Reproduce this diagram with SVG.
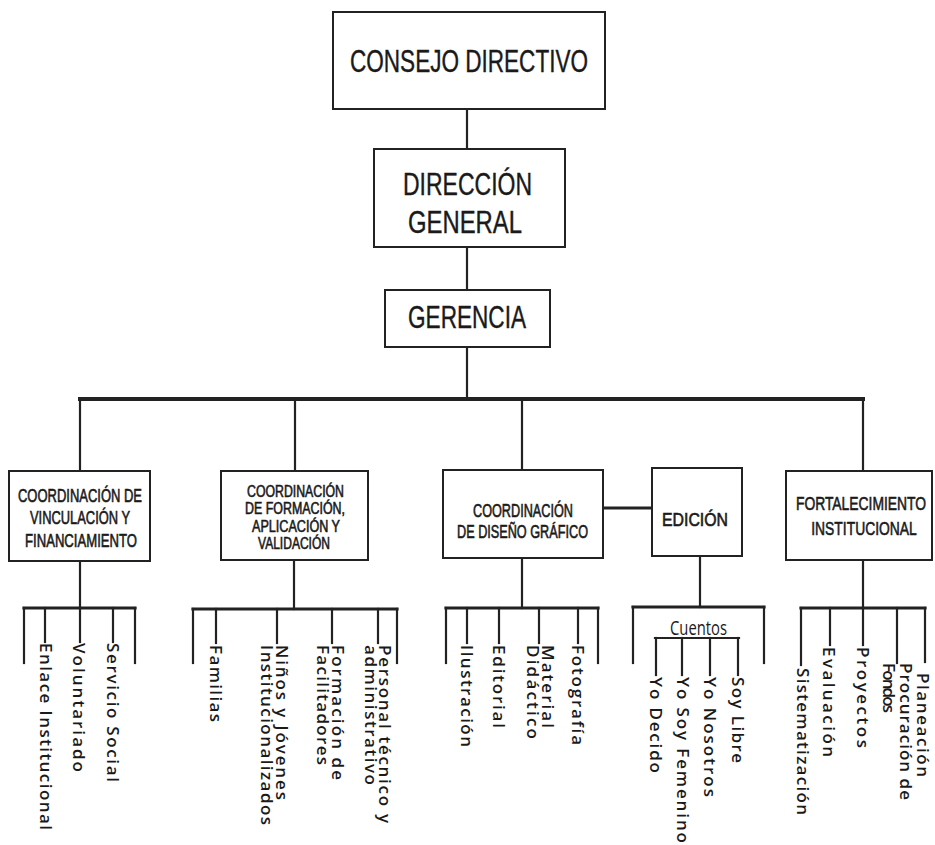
<svg xmlns="http://www.w3.org/2000/svg" width="935" height="845" viewBox="0 0 935 845">
<style>
.box{fill:#fff;stroke:#222;stroke-width:2}
.ln{stroke:#222;stroke-width:2.2;fill:none;stroke-linecap:square}
.bar{stroke:#222;stroke-width:3.2;fill:none;stroke-linecap:square}
.main{stroke:#222;stroke-width:4;fill:none}
.t1{font-family:"Liberation Sans",Arial,sans-serif;font-size:31px;fill:#1a1a1a;stroke:#1a1a1a;stroke-width:0.4;text-anchor:start}
.t2{font-family:"Liberation Sans",Arial,sans-serif;font-size:18px;fill:#1a1a1a;stroke:#1a1a1a;stroke-width:0.6;text-anchor:start}
.r{font-family:"Open Sans","DejaVu Sans",sans-serif;font-size:17px;font-weight:600;fill:#1a1a1a}
.c{font-family:"Open Sans","DejaVu Sans",sans-serif;font-size:20px;font-weight:500;fill:#1a1a1a}
</style>
<rect width="935" height="845" fill="#fff"/>
<g id="connectors">
<line class="ln" x1="467" y1="109" x2="467" y2="149"/>
<line class="ln" x1="467" y1="247" x2="467" y2="290"/>
<line class="ln" x1="467" y1="347" x2="467" y2="398"/>
<line class="main" x1="78" y1="399" x2="865" y2="399"/>
<line class="ln" x1="80" y1="399" x2="80" y2="471"/>
<line class="ln" x1="295" y1="399" x2="295" y2="471"/>
<line class="ln" x1="522" y1="399" x2="522" y2="470"/>
<line class="ln" x1="863" y1="399" x2="863" y2="471"/>
<line class="bar" x1="603" y1="508" x2="652" y2="508"/>
<line class="ln" x1="80" y1="561" x2="80" y2="642"/>
<line class="bar" x1="24" y1="608" x2="135" y2="608"/>
<line class="ln" x1="24" y1="608" x2="24" y2="663"/>
<line class="ln" x1="45" y1="608" x2="45" y2="642"/>
<line class="ln" x1="113" y1="608" x2="113" y2="642"/>
<line class="ln" x1="135" y1="608" x2="135" y2="663"/>
<line class="ln" x1="294" y1="560" x2="294" y2="609"/>
<line class="bar" x1="193" y1="609" x2="397" y2="609"/>
<line class="ln" x1="193" y1="609" x2="193" y2="663"/>
<line class="ln" x1="216" y1="609" x2="216" y2="643"/>
<line class="ln" x1="277" y1="609" x2="277" y2="643"/>
<line class="ln" x1="332" y1="609" x2="332" y2="643"/>
<line class="ln" x1="378" y1="609" x2="378" y2="643"/>
<line class="ln" x1="397" y1="609" x2="397" y2="663"/>
<line class="ln" x1="522" y1="558" x2="522" y2="608"/>
<line class="bar" x1="446" y1="608" x2="598" y2="608"/>
<line class="ln" x1="446" y1="608" x2="446" y2="663"/>
<line class="ln" x1="467" y1="608" x2="467" y2="643"/>
<line class="ln" x1="499" y1="608" x2="499" y2="643"/>
<line class="ln" x1="539" y1="608" x2="539" y2="643"/>
<line class="ln" x1="578" y1="608" x2="578" y2="643"/>
<line class="ln" x1="598" y1="608" x2="598" y2="663"/>
<line class="ln" x1="700" y1="556" x2="700" y2="607"/>
<line class="bar" x1="633" y1="607" x2="764" y2="607"/>
<line class="ln" x1="633" y1="607" x2="633" y2="663"/>
<line class="ln" x1="764" y1="607" x2="764" y2="663"/>
<line class="ln" x1="655" y1="638" x2="739" y2="638"/>
<line class="ln" x1="656" y1="638" x2="656" y2="675"/>
<line class="ln" x1="682" y1="638" x2="682" y2="675"/>
<line class="ln" x1="710" y1="638" x2="710" y2="675"/>
<line class="ln" x1="738" y1="638" x2="738" y2="675"/>
<line class="ln" x1="863" y1="560" x2="863" y2="645"/>
<line class="bar" x1="801" y1="608" x2="925" y2="608"/>
<line class="ln" x1="801" y1="608" x2="801" y2="665"/>
<line class="ln" x1="830" y1="608" x2="830" y2="645"/>
<line class="ln" x1="897" y1="608" x2="897" y2="663"/>
<line class="ln" x1="925" y1="608" x2="925" y2="662"/>
</g>
<g id="consejo">
<rect class="box" x="333" y="12" width="272" height="97"/>
<text class="t1" x="350" y="72" textLength="238" lengthAdjust="spacingAndGlyphs">CONSEJO DIRECTIVO</text>
</g>
<g id="direccion">
<rect class="box" x="374" y="149" width="191" height="98"/>
<text class="t1" x="403" y="195" textLength="129" lengthAdjust="spacingAndGlyphs">DIRECCIÓN</text>
<text class="t1" x="408" y="233" textLength="114" lengthAdjust="spacingAndGlyphs">GENERAL</text>
</g>
<g id="gerencia">
<rect class="box" x="385" y="290" width="165" height="57"/>
<text class="t1" x="408" y="328" textLength="118" lengthAdjust="spacingAndGlyphs">GERENCIA</text>
</g>
<g id="vinculacion">
<rect class="box" x="9" y="471" width="141" height="90"/>
<text class="t2" x="18" y="502" textLength="124" lengthAdjust="spacingAndGlyphs">COORDINACIÓN DE</text>
<text class="t2" x="30" y="524" textLength="100" lengthAdjust="spacingAndGlyphs">VINCULACIÓN Y</text>
<text class="t2" x="25" y="547" textLength="112" lengthAdjust="spacingAndGlyphs">FINANCIAMIENTO</text>
</g>
<g id="formacion">
<rect class="box" x="221" y="471" width="147" height="89"/>
<text class="t2" style="font-size:16px" x="247" y="497" textLength="97" lengthAdjust="spacingAndGlyphs">COORDINACIÓN</text>
<text class="t2" style="font-size:16px" x="245" y="514" textLength="100" lengthAdjust="spacingAndGlyphs">DE FORMACIÓN,</text>
<text class="t2" style="font-size:16px" x="252" y="532" textLength="88" lengthAdjust="spacingAndGlyphs">APLICACIÓN Y</text>
<text class="t2" style="font-size:16px" x="258" y="549" textLength="72" lengthAdjust="spacingAndGlyphs">VALIDACIÓN</text>
</g>
<g id="diseno">
<rect class="box" x="443" y="470" width="160" height="88"/>
<text class="t2" x="473" y="517" textLength="100" lengthAdjust="spacingAndGlyphs">COORDINACIÓN</text>
<text class="t2" x="457" y="538" textLength="131" lengthAdjust="spacingAndGlyphs">DE DISEÑO GRÁFICO</text>
</g>
<g id="edicion">
<rect class="box" x="652" y="468" width="90" height="88"/>
<text class="t2" x="662" y="526" textLength="66" lengthAdjust="spacingAndGlyphs">EDICIÓN</text>
</g>
<g id="fortalecimiento">
<rect class="box" x="786" y="471" width="146" height="89"/>
<text class="t2" style="font-size:19px;text-anchor:middle" transform="translate(861,510) scale(0.73,1)">FORTALECIMIENTO</text>
<text class="t2" style="font-size:19px;text-anchor:middle" transform="translate(864,535) scale(0.73,1)">INSTITUCIONAL</text>
</g>
<g id="vinculacion-areas">
<text class="r" transform="translate(40,643) rotate(90)" textLength="187">Enlace Institucional</text>
<text class="r" transform="translate(73,643) rotate(90)" textLength="129">Voluntariado</text>
<text class="r" transform="translate(107,643) rotate(90)" textLength="139">Servicio Social</text>
</g>
<g id="formacion-areas">
<text class="r" transform="translate(210,645) rotate(90)" textLength="77">Familias</text>
<text class="r" transform="translate(276,645) rotate(90)" textLength="155">Niños y Jóvenes</text>
<text class="r" transform="translate(261,645) rotate(90)" textLength="180">Institucionalizados</text>
<text class="r" transform="translate(332,645) rotate(90)" textLength="135">Formación de</text>
<text class="r" transform="translate(317,645) rotate(90)" textLength="120">Facilitadores</text>
<text class="r" transform="translate(379,645) rotate(90)" textLength="178">Personal técnico y</text>
<text class="r" transform="translate(365,645) rotate(90)" textLength="140">administrativo</text>
</g>
<g id="diseno-areas">
<text class="r" transform="translate(461,645) rotate(90)" textLength="102">Ilustración</text>
<text class="r" transform="translate(493,645) rotate(90)" textLength="83">Editorial</text>
<text class="r" transform="translate(542,645) rotate(90)" textLength="83">Material</text>
<text class="r" transform="translate(527,645) rotate(90)" textLength="94">Didáctico</text>
<text class="r" transform="translate(572,645) rotate(90)" textLength="100">Fotografía</text>
</g>
<g id="edicion-areas">
<text class="c" x="670" y="635" textLength="57" lengthAdjust="spacingAndGlyphs">Cuentos</text>
<text class="r" transform="translate(650,677) rotate(90)" textLength="96">Yo Decido</text>
<text class="r" transform="translate(677,677) rotate(90)" textLength="166">Yo Soy Femenino</text>
<text class="r" transform="translate(704,677) rotate(90)" textLength="120">Yo Nosotros</text>
<text class="r" transform="translate(732,677) rotate(90)" textLength="86">Soy Libre</text>
</g>
<g id="fortalecimiento-areas">
<text class="r" transform="translate(797,668) rotate(90)" textLength="147">Sistematización</text>
<text class="r" transform="translate(823,647) rotate(90)" textLength="110">Evaluación</text>
<text class="r" transform="translate(857,647) rotate(90)" textLength="101">Proyectos</text>
<text class="r" transform="translate(900,663) rotate(90)" textLength="137">Procuración de</text>
<text class="r" transform="translate(883,663) rotate(90)" textLength="50">Fondos</text>
<text class="r" transform="translate(917,673) rotate(90)" textLength="104">Planeación</text>
</g>
</svg>
